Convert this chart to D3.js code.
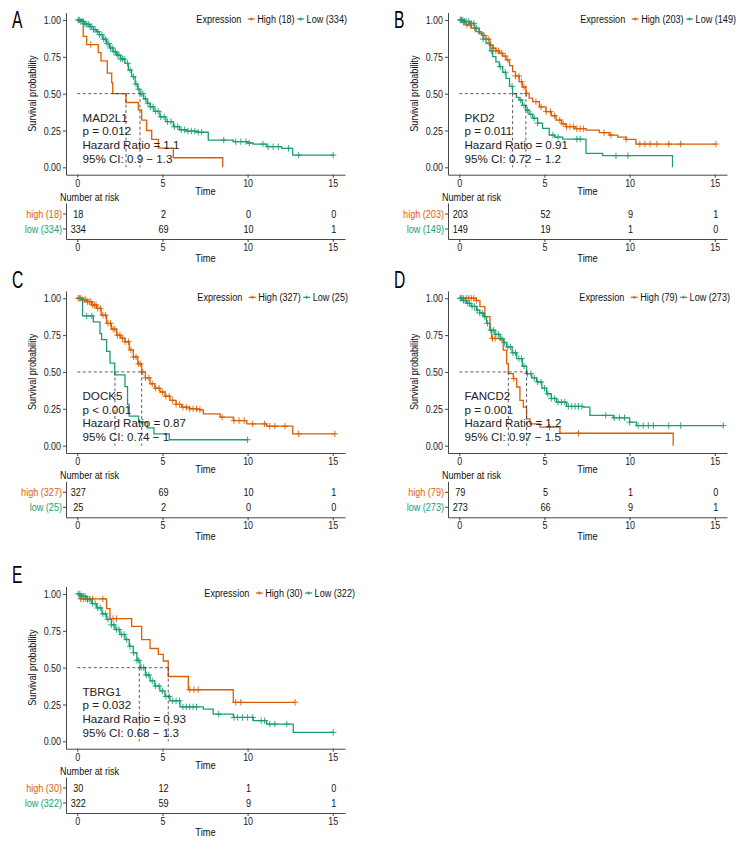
<!DOCTYPE html>
<html>
<head>
<meta charset="utf-8">
<script src="https://cdn.jsdelivr.net/npm/d3@7"></script>
<style>
  body { margin: 0; background: #fff; }
  svg text { font-family: "Liberation Sans", Arial, sans-serif; }
</style>
</head>
<body>
<svg id="chart" width="756" height="852"></svg>
<script>
/* Kaplan-Meier panels A-E with number-at-risk tables (high vs low expression). */

const ORANGE = "#D95F02";
const GREEN = "#1B9E77";

const PANELS = ["A", "B", "C", "D", "E"];
const GENES = ["MAD2L1", "PKD2", "DOCK5", "FANCD2", "TBRG1"];
const P_TEXT = ["p = 0.012", "p = 0.011", "p < 0.001", "p = 0.001", "p = 0.032"];
const HAZARD = ["1.1", "0.91", "0.87", "1.2", "0.93"];
const CI_TEXT = ["0.9 − 1.3", "0.72 − 1.2", "0.74 − 1", "0.97 − 1.5", "0.68 − 1.3"];
const N_HIGH = [18, 203, 327, 79, 30];
const N_LOW = [334, 149, 25, 273, 322];
const MEDIAN_HIGH = [2.86, 3.91, 3.78, 2.88, 5.34];
const MEDIAN_LOW = [3.68, 3.13, 2.21, 3.95, 3.64];

const X_TICKS = [0, 5, 10, 15];
const Y_TICKS = [0, 0.25, 0.5, 0.75, 1];
const RISK_TIMES = [0, 5, 10, 15];
const RISK_HIGH = [[18, 2, 0, 0], [203, 52, 9, 1], [327, 69, 10, 1], [79, 5, 1, 0], [30, 12, 1, 0]];
const RISK_LOW = [[334, 69, 10, 1], [149, 19, 1, 0], [25, 2, 0, 0], [273, 66, 9, 1], [322, 59, 9, 1]];

// survival steps: [time, survival from that time on]
const A_HIGH = [[0,1],[0.35,0.889],[0.55,0.833],[1.23,0.778],[1.39,0.722],[1.76,0.639],[2.02,0.575],[2.08,0.5],[2.86,0.44],[3.58,0.39],[3.78,0.32],[4.07,0.25],[4.37,0.19],[4.76,0.13],[5.64,0.065],[8.54,0]];
const A_LOW = [[0,1],[0.2,0.99],[0.4,0.975],[0.55,0.97],[0.75,0.955],[0.95,0.935],[1.14,0.92],[1.3,0.9],[1.5,0.87],[1.72,0.84],[1.9,0.81],[2.1,0.785],[2.31,0.762],[2.55,0.735],[2.8,0.706],[3.0,0.66],[3.19,0.615],[3.4,0.565],[3.55,0.53],[3.68,0.5],[3.9,0.465],[4.1,0.435],[4.27,0.411],[4.5,0.38],[4.85,0.343],[5.2,0.31],[5.64,0.276],[6.0,0.255],[6.42,0.246],[7.0,0.238],[7.69,0.185],[9.16,0.174],[10.0,0.165],[10.33,0.158],[11.12,0.14],[12.0,0.129],[12.65,0.083],[15.03,0.083]];
const B_HIGH = [[0,1],[0.2,0.985],[0.39,0.966],[0.7,0.945],[0.98,0.921],[1.3,0.895],[1.57,0.869],[1.8,0.83],[1.96,0.808],[2.15,0.79],[2.35,0.774],[2.55,0.755],[2.74,0.729],[2.95,0.69],[3.13,0.649],[3.3,0.62],[3.52,0.581],[3.7,0.545],[3.91,0.502],[4.1,0.47],[4.31,0.446],[4.7,0.41],[5.09,0.378],[5.4,0.35],[5.68,0.321],[6.0,0.295],[6.26,0.276],[6.8,0.262],[7.44,0.253],[8.22,0.235],[8.81,0.219],[9.3,0.205],[9.78,0.19],[10.37,0.158],[15.07,0.158]];
const B_LOW = [[0,1],[0.3,0.99],[0.59,0.977],[0.9,0.945],[1.17,0.91],[1.4,0.87],[1.57,0.842],[1.8,0.79],[1.96,0.751],[2.15,0.715],[2.35,0.683],[2.55,0.645],[2.74,0.604],[2.95,0.55],[3.13,0.5],[3.35,0.475],[3.52,0.457],[3.7,0.42],[3.91,0.389],[4.1,0.36],[4.31,0.333],[4.6,0.3],[4.89,0.265],[5.28,0.219],[5.6,0.205],[6.07,0.192],[7.44,0.095],[8.41,0.079],[12.52,0]];
const C_HIGH = [[0,1],[0.25,0.99],[0.55,0.977],[0.85,0.955],[1.14,0.932],[1.4,0.885],[1.72,0.83],[2.0,0.79],[2.31,0.75],[2.55,0.73],[2.8,0.705],[3.05,0.65],[3.29,0.602],[3.55,0.555],[3.78,0.5],[4.0,0.46],[4.27,0.42],[4.55,0.39],[4.86,0.364],[5.15,0.335],[5.44,0.307],[5.8,0.28],[6.13,0.261],[6.6,0.25],[7.2,0.243],[7.4,0.216],[8.38,0.193],[9.16,0.17],[9.95,0.148],[11.12,0.132],[12.65,0.08],[15.13,0.08]];
const C_LOW = [[0,1],[0.31,0.88],[0.94,0.84],[1.33,0.76],[1.43,0.72],[1.72,0.64],[1.92,0.56],[2.2,0.48],[2.8,0.4],[2.95,0.28],[3.05,0.2],[3.6,0.16],[4.1,0.12],[4.5,0.08],[5.4,0.04],[10.0,0.04]];
const D_HIGH = [[0,1],[1.0,0.985],[1.21,0.943],[1.5,0.875],[1.8,0.784],[1.9,0.727],[2.39,0.716],[2.58,0.648],[2.78,0.557],[2.88,0.489],[3.17,0.455],[3.37,0.398],[3.56,0.307],[3.76,0.261],[3.95,0.182],[4.15,0.148],[4.74,0.125],[5.91,0.084],[12.56,0]];
const D_LOW = [[0,1],[0.2,0.985],[0.43,0.966],[0.7,0.945],[1.02,0.92],[1.2,0.9],[1.41,0.875],[1.6,0.83],[1.8,0.784],[2.1,0.755],[2.39,0.727],[2.6,0.7],[2.78,0.67],[3.1,0.63],[3.37,0.591],[3.7,0.54],[3.95,0.489],[4.25,0.46],[4.54,0.432],[4.85,0.39],[5.13,0.352],[5.4,0.32],[5.71,0.295],[6.3,0.266],[7.28,0.261],[7.67,0.205],[9.04,0.189],[10.0,0.159],[10.4,0.136],[15.5,0.136]];
const E_HIGH = [[0,1],[0.15,0.967],[1.72,0.9],[1.92,0.833],[3.19,0.78],[3.78,0.69],[4.27,0.63],[4.76,0.59],[5.05,0.545],[5.34,0.44],[6.52,0.35],[9.16,0.265],[12.79,0.265]];
const E_LOW = [[0,1],[0.25,0.985],[0.55,0.962],[0.85,0.935],[1.14,0.905],[1.45,0.865],[1.72,0.827],[2.0,0.79],[2.21,0.759],[2.5,0.725],[2.8,0.691],[3.05,0.645],[3.29,0.601],[3.5,0.55],[3.68,0.5],[4.0,0.45],[4.27,0.41],[4.55,0.375],[4.85,0.342],[5.15,0.305],[5.44,0.275],[6.03,0.234],[7.4,0.219],[7.98,0.185],[9.16,0.162],[10.33,0.14],[11.12,0.117],[12.68,0.061],[15.03,0.061]];

// censoring times ("+" marks)
const A_HIGH_CENSOR = [0.79];
const A_LOW_CENSOR = [0.05,0.12,0.2,0.28,0.35,0.45,0.55,0.65,0.75,0.85,0.95,1.05,1.2,1.3,1.45,1.55,1.65,1.75,1.85,1.95,2.05,2.15,2.25,2.35,2.45,2.55,2.65,2.75,2.95,3.1,3.3,3.45,3.6,3.75,3.85,4.0,4.15,4.3,4.45,4.6,4.75,4.9,5.1,5.3,5.5,5.7,5.9,6.1,6.3,6.5,6.7,6.9,7.1,7.3,8.6,9.3,9.6,9.9,10.1,10.9,11.2,11.5,11.8,12.4,13.0,15.03];
const B_HIGH_CENSOR = [0.1,0.25,0.45,0.65,0.9,1.15,1.45,1.7,1.85,2.0,2.15,2.3,2.5,2.7,2.85,3.3,3.5,3.65,3.8,3.95,4.5,4.8,5.1,5.35,5.6,5.9,6.1,6.3,6.5,6.7,6.9,7.1,7.3,8.5,8.9,9.8,10.6,10.9,11.2,11.6,12.3,13.0,15.07];
const B_LOW_CENSOR = [0.05,0.12,0.2,0.3,0.4,0.55,0.7,0.85,1.0,1.4,1.9,2.4,2.7,3.1,3.6,3.8,4.0,4.2,4.4,4.6,5.5,5.8,6.9,7.1,9.2,9.9];
const C_HIGH_CENSOR = [0.05,0.12,0.2,0.3,0.4,0.5,0.6,0.7,0.8,0.9,1.0,1.1,1.2,1.35,1.5,1.65,1.8,1.95,2.1,2.2,2.35,2.5,2.65,2.8,3.0,3.15,3.3,3.45,3.6,3.7,3.85,4.0,4.2,4.4,4.6,4.8,5.0,5.2,5.4,5.6,5.8,6.0,6.2,6.4,6.6,6.8,7.0,7.2,8.5,9.2,9.5,9.8,10.3,11.0,11.3,11.6,12.2,13.0,15.13];
const C_LOW_CENSOR = [0.55,0.85,10.0];
const D_HIGH_CENSOR = [0.1,0.25,0.4,0.55,0.7,0.85,1.0,1.95,2.1,3.2,5.3,7.0];
const D_LOW_CENSOR = [0.05,0.15,0.25,0.35,0.5,0.6,0.75,0.9,1.05,1.2,1.35,1.5,1.65,1.85,2.0,2.15,2.3,2.5,2.65,2.85,3.0,3.15,3.3,3.5,3.65,3.8,4.0,4.2,4.4,4.6,4.8,5.0,5.2,5.4,5.6,5.8,6.0,6.2,6.4,6.6,6.8,7.0,7.2,8.6,9.1,9.4,9.7,10.0,10.5,10.8,11.1,11.4,12.3,13.0,15.5];
const E_HIGH_CENSOR = [0.2,0.35,0.5,0.7,0.9,1.5,2.1,2.3,6.6,6.85,7.1,9.3,9.6,12.79];
const E_LOW_CENSOR = [0.05,0.15,0.25,0.35,0.45,0.6,0.75,0.9,1.05,1.2,1.35,1.5,1.65,1.8,2.0,2.15,2.3,2.45,2.6,2.75,2.9,3.1,3.3,3.5,3.6,3.75,3.9,4.05,4.2,4.4,4.6,4.8,5.0,5.2,5.4,5.6,5.8,6.0,6.2,6.4,6.6,6.8,7.0,8.3,9.2,9.4,9.7,10.0,10.3,10.8,11.0,11.3,11.6,12.3,15.03];

const HIGH_CURVES = [A_HIGH, B_HIGH, C_HIGH, D_HIGH, E_HIGH];
const LOW_CURVES = [A_LOW, B_LOW, C_LOW, D_LOW, E_LOW];
const HIGH_CENSORS = [A_HIGH_CENSOR, B_HIGH_CENSOR, C_HIGH_CENSOR, D_HIGH_CENSOR, E_HIGH_CENSOR];
const LOW_CENSORS = [A_LOW_CENSOR, B_LOW_CENSOR, C_LOW_CENSOR, D_LOW_CENSOR, E_LOW_CENSOR];

// layout (px)
const ORIGINS = [[0, 0], [382, 0], [0, 278.3], [382, 278.3], [0, 574]];
const LETTER_Y = [28, 28, 9.7, 9.7, 9];
const LEGEND_RIGHT = [347, 354, 348, 348, 355];
const SX = 0.79; // horizontal squeeze that imitates the condensed label face

const svg = d3.select("#chart");
const AXIS_COL = "#333";

function survAt(curve, t) {
  let s = curve[0][1];
  for (const [tt, ss] of curve) if (tt <= t) s = ss;
  return s;
}

// condensed text at (x, y)
function ctext(parent, x, y, str, size, anchor, extra) {
  return parent.append("text")
    .attr("transform", `translate(${x},${y})${extra || ""} scale(${SX},1)`)
    .attr("text-anchor", anchor || "start")
    .style("font-size", size + "px").attr("fill", "#111").text(str);
}

function styleAxis(g) {
  g.select(".domain").attr("stroke", AXIS_COL).attr("stroke-width", 0.9);
  g.selectAll(".tick line").attr("stroke", AXIS_COL).attr("stroke-width", 0.9);
  g.selectAll(".tick text").attr("fill", "#222").style("font-size", "11.3px")
    .each(function () {
      const t = d3.select(this);
      const x0 = +t.attr("x") || 0;
      t.attr("x", x0 / SX).attr("transform", `scale(${SX},1)`);
    });
}

function drawPanel(i) {
  const [ox, oy] = ORIGINS[i];
  const g = svg.append("g").attr("transform", `translate(${ox},${oy})`);

  const x = d3.scaleLinear().domain([-0.664, 15.72]).range([66, 345]);
  const y = d3.scaleLinear().domain([-0.05, 1.05]).range([174.7, 12.6]);

  g.append("text").attr("transform", `translate(12,${LETTER_Y[i]}) scale(0.68,1)`)
    .style("font-size", "23px").attr("fill", "#000").text(PANELS[i]);

  // axes
  g.append("g").attr("transform", "translate(66,0)")
    .call(d3.axisLeft(y).tickValues(Y_TICKS).tickFormat(d3.format(".2f")).tickSize(3).tickSizeOuter(0).tickPadding(2))
    .call(styleAxis);
  g.append("g").attr("transform", "translate(0,174.7)")
    .call(d3.axisBottom(x).tickValues(X_TICKS).tickSize(3).tickSizeOuter(0).tickPadding(1))
    .call(styleAxis);

  ctext(g, 35.5, 93.6, "Survival probability", 11.5, "middle", " rotate(-90)");
  ctext(g, 205.5, 195, "Time", 11.8, "middle");

  // curves
  const line = d3.line().x(d => x(d[0])).y(d => y(d[1])).curve(d3.curveStepAfter);
  const series = [
    { curve: HIGH_CURVES[i], censor: HIGH_CENSORS[i], color: ORANGE },
    { curve: LOW_CURVES[i], censor: LOW_CENSORS[i], color: GREEN },
  ];
  series.forEach(s => {
    g.append("path").attr("d", line(s.curve)).attr("fill", "none")
      .attr("stroke", s.color).attr("stroke-width", 1.3);
    g.append("g").selectAll("path").data(s.censor).join("path")
      .attr("transform", t => `translate(${x(t)},${y(survAt(s.curve, t))})`)
      .attr("d", "M-3.2,0H3.2M0,-3.2V3.2")
      .attr("stroke", s.color).attr("stroke-width", 0.9).attr("fill", "none");
  });

  // median lines
  const meds = [MEDIAN_HIGH[i], MEDIAN_LOW[i]];
  const dash = g.append("g").attr("stroke", "#333").attr("stroke-width", 0.8)
    .attr("stroke-dasharray", "3,2.5").attr("fill", "none");
  dash.append("line").attr("x1", x(0)).attr("x2", x(d3.max(meds)))
    .attr("y1", y(0.5)).attr("y2", y(0.5));
  meds.forEach(m => dash.append("line").attr("x1", x(m)).attr("x2", x(m))
    .attr("y1", y(0.5)).attr("y2", y(0)));

  // annotation (regular width face)
  const ann = [GENES[i], P_TEXT[i], "Hazard Ratio = " + HAZARD[i], "95% CI: " + CI_TEXT[i]];
  g.append("g").selectAll("text").data(ann).join("text")
    .attr("x", 82.5).attr("y", (d, k) => 121.6 + k * 13.7)
    .style("font-size", "11.6px").attr("fill", "#222").text(d => d);

  // legend
  const lg = g.append("g");
  const items = [
    { label: "Expression", key: null },
    { label: `High (${N_HIGH[i]})`, key: ORANGE },
    { label: `Low (${N_LOW[i]})`, key: GREEN },
  ];
  let cx = 0;
  items.forEach((it, k) => {
    if (it.key) {
      cx += k === 1 ? 6.5 : 2.5;
      lg.append("line").attr("x1", cx).attr("x2", cx + 7).attr("y1", 19).attr("y2", 19)
        .attr("stroke", it.key).attr("stroke-width", 1.2);
      lg.append("path").attr("d", `M${cx + 1.8},19H${cx + 5.2}M${cx + 3.5},17.3V20.7`)
        .attr("stroke", it.key).attr("stroke-width", 0.9);
      cx += 9.5;
    }
    const t = ctext(lg, cx, 23, it.label, 11.5);
    cx += t.node().getComputedTextLength() * SX;
  });
  lg.attr("transform", `translate(${LEGEND_RIGHT[i] - cx},0)`);

  // number at risk table
  ctext(g, 60, 200.8, "Number at risk", 11.5);
  const rowLabels = [`high (${N_HIGH[i]})`, `low (${N_LOW[i]})`];
  const ry = d3.scalePoint().domain(rowLabels).range([203, 239]).padding(0.7);
  const ryAxis = g.append("g").attr("transform", "translate(66,0)")
    .call(d3.axisLeft(ry).tickSize(3).tickSizeOuter(0).tickPadding(1)).call(styleAxis);
  ryAxis.selectAll(".tick text").style("font-size", "11.5px")
    .attr("fill", (d, k) => (k === 0 ? ORANGE : GREEN));
  const rows = [RISK_HIGH[i], RISK_LOW[i]];
  rows.forEach((vals, r) => {
    vals.forEach((v, k) => ctext(g, x(RISK_TIMES[k]) + 1, ry(rowLabels[r]) + 4, v, 11.5, "middle"));
  });
  g.append("g").attr("transform", "translate(0,239)")
    .call(d3.axisBottom(x).tickValues(X_TICKS).tickSize(3).tickSizeOuter(0).tickPadding(1))
    .call(styleAxis);
  ctext(g, 205.5, 261.5, "Time", 11.8, "middle");
}

PANELS.forEach((p, i) => drawPanel(i));
</script>
</body>
</html>
